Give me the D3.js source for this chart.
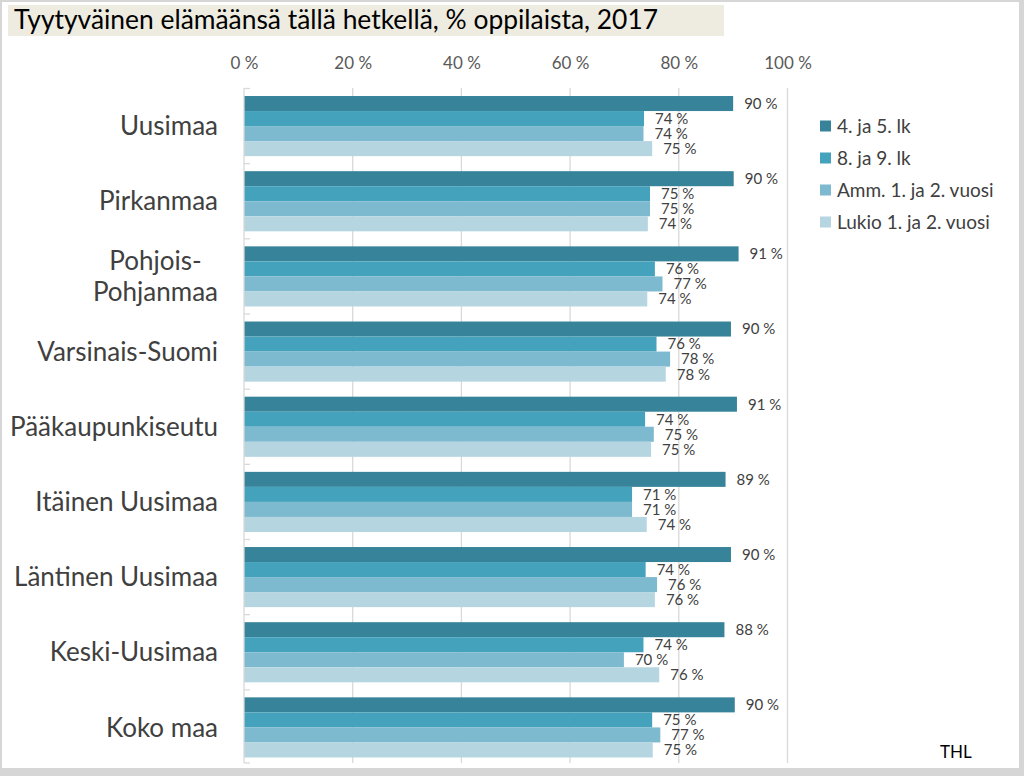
<!DOCTYPE html>
<html><head><meta charset="utf-8">
<script src="https://cdn.jsdelivr.net/npm/d3@7/dist/d3.min.js"></script>
<style>
html,body{margin:0;padding:0;background:#d6d6d6;}
svg{display:block;font-family:Lato,"Open Sans",sans-serif;}
</style></head>
<body>
<svg id="chart" width="1024" height="776"></svg>
<script>
const title = "Tyytyväinen elämäänsä tällä hetkellä, % oppilaista, 2017";
const categories = ["Uusimaa","Pirkanmaa","Pohjois-Pohjanmaa","Varsinais-Suomi","Pääkaupunkiseutu","Itäinen Uusimaa","Läntinen Uusimaa","Keski-Uusimaa","Koko maa"];
const seriesNames = ["4. ja 5. lk","8. ja 9. lk","Amm. 1. ja 2. vuosi","Lukio 1. ja 2. vuosi"];
const grade45 = [90.0, 90.1, 91.0, 89.6, 90.7, 88.6, 89.6, 88.4, 90.3];
const grade89 = [73.6, 74.7, 75.6, 75.9, 73.8, 71.4, 73.9, 73.5, 75.1];
const amm     = [73.5, 74.7, 77.0, 78.4, 75.4, 71.4, 76.0, 69.9, 76.6];
const lukio   = [75.1, 74.3, 74.2, 77.6, 74.9, 74.1, 75.6, 76.4, 75.2];
const tickValues = [0, 20, 40, 60, 80, 100];
const source = "THL";

const seriesValues = [grade45, grade89, amm, lukio];
const colors = ["#37849a", "#45a2bc", "#7db9cf", "#b5d5e1"];
const textColor = "#404040";

const svg = d3.select("#chart");
svg.append("rect").attr("x",2).attr("y",2).attr("width",1017).attr("height",766).attr("fill","#fff");

// title box
svg.append("rect").attr("x",8).attr("y",5).attr("width",716).attr("height",31).attr("fill","#eeece1");
svg.append("text").attr("x",14).attr("y",29).attr("font-size",26.4).attr("fill","#000").text(title);

const x = d3.scaleLinear().domain([0,100]).range([244, 787.5]);
const y = d3.scaleBand().domain(categories).range([88.5, 765]).paddingInner(0.2).paddingOuter(0.1);
const ySub = d3.scaleBand().domain(d3.range(seriesNames.length)).range([0, y.bandwidth()]);

// gridlines
svg.append("g").selectAll("line").data(tickValues.slice(1)).join("line")
  .attr("x1", d=>x(d)).attr("x2", d=>x(d)).attr("y1", 88).attr("y2", 763)
  .attr("stroke", "#d9d9d9").attr("stroke-width", 1.3);

// top axis labels
const xAxis = d3.axisTop(x).tickValues(tickValues).tickSize(0).tickPadding(0).tickFormat(d => d + "\u00a0%");
const gx = svg.append("g").attr("transform","translate(0,69)").call(xAxis);
gx.select(".domain").remove();
gx.selectAll("text").attr("font-size",17).attr("fill","#595959").attr("font-family","Lato,'Open Sans',sans-serif");

// bars
const groups = svg.append("g").selectAll("g").data(categories).join("g")
  .attr("transform", c => `translate(0,${y(c)})`);
groups.each(function(c, ci){
  const g = d3.select(this);
  seriesValues.forEach((vals, si) => {
    g.append("rect").attr("x", x(0)).attr("y", ySub(si))
      .attr("width", x(vals[ci]) - x(0)).attr("height", ySub.bandwidth())
      .attr("fill", colors[si]);
    g.append("text").attr("x", x(vals[ci]) + 11).attr("y", ySub(si) + ySub.bandwidth()/2)
      .attr("dy","0.36em").attr("font-size",15).attr("fill",textColor)
      .text(Math.round(vals[ci]) + "\u00a0%");
  });
});

// left axis line and ticks
svg.append("line").attr("x1",x(0)).attr("x2",x(0)).attr("y1",88).attr("y2",763)
  .attr("stroke","#d9d9d9").attr("stroke-width",1.3);
const bounds = categories.map(c => y(c) - y.step()*y.paddingInner()/2).concat([763]);
svg.append("g").selectAll("line").data(bounds).join("line")
  .attr("x1", x(0)).attr("x2", x(0)+6).attr("y1", d=>d).attr("y2", d=>d)
  .attr("stroke","#d9d9d9").attr("stroke-width",1.3);

// category labels
const catG = svg.append("g");
categories.forEach(c => {
  const cy = y(c) + y.bandwidth()/2;
  if (c === "Pohjois-Pohjanmaa") {
    const lines = ["Pohjois-","Pohjanmaa"];
    const t = catG.append("text").attr("font-size",26).attr("fill",textColor).attr("text-anchor","middle");
    const spans = lines.map((l,i) => t.append("tspan").attr("y", cy + (i - 0.5)*31).attr("dy","0.35em").text(l));
    const maxW = d3.max(spans.map(s => s.node().getComputedTextLength()));
    spans.forEach(s => s.attr("x", 218 - maxW/2));
  } else {
    catG.append("text").attr("x",218).attr("y",cy).attr("dy","0.35em")
      .attr("text-anchor","end").attr("font-size",26).attr("fill",textColor).text(c);
  }
});

// legend
const leg = svg.append("g").selectAll("g").data(seriesNames).join("g")
  .attr("transform",(d,i)=>`translate(820,${126 + i*32})`);
leg.append("rect").attr("x",0).attr("y",-5.5).attr("width",11).attr("height",11).attr("fill",(d,i)=>colors[i]);
leg.append("text").attr("x",17).attr("y",0).attr("dy","0.35em").attr("font-size",19).attr("fill",textColor).text(d=>d);

// source
svg.append("text").attr("x",940).attr("y",752).attr("dy","0.35em").attr("font-size",17).attr("fill","#000").text(source);
</script>
</body></html>
